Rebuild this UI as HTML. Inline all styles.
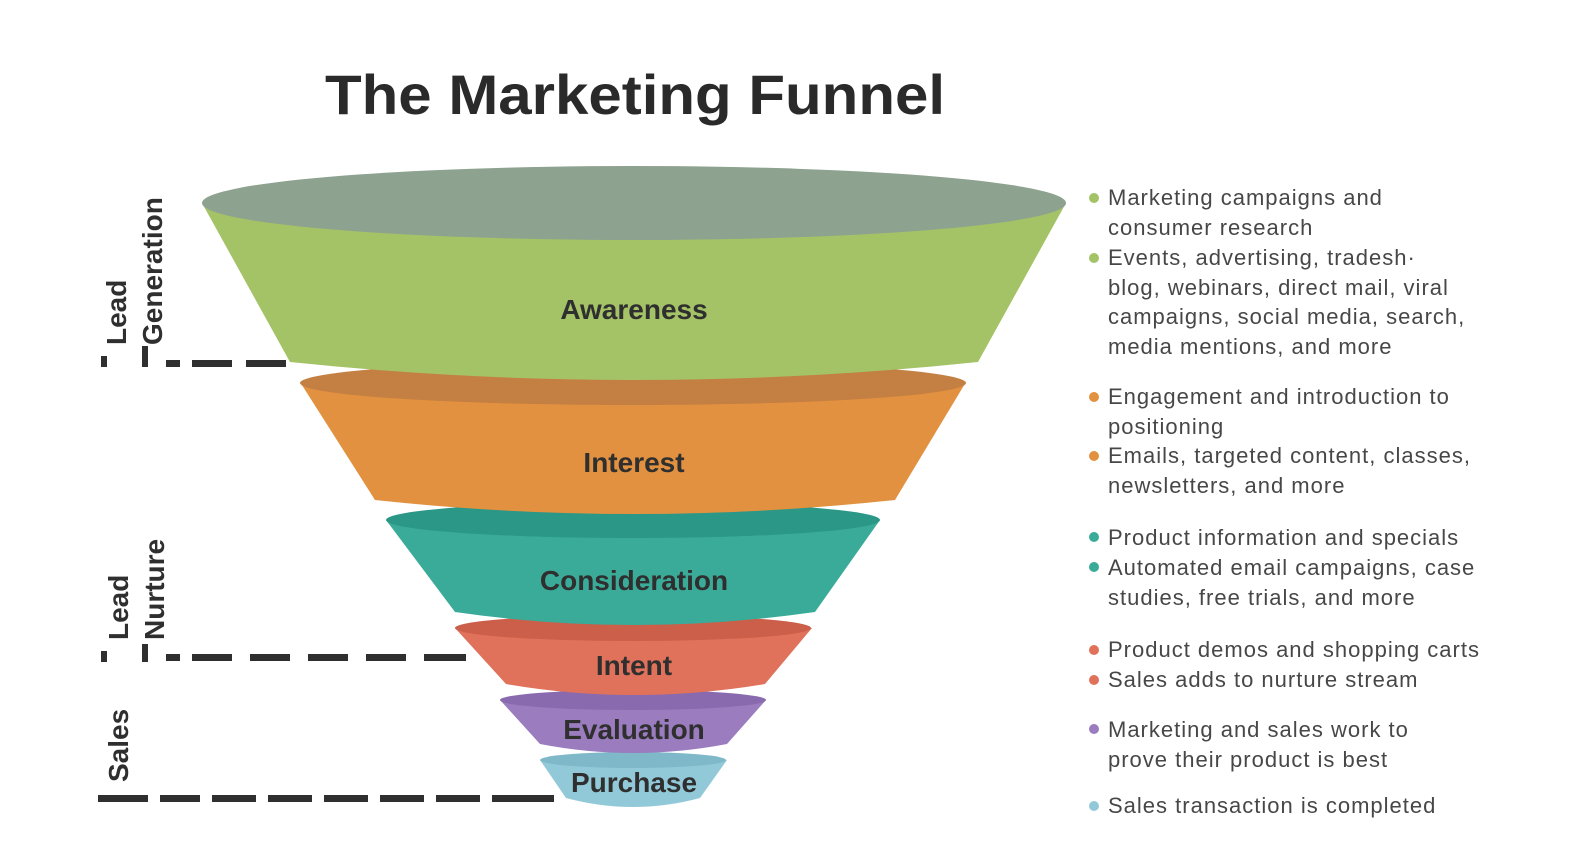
<!DOCTYPE html>
<html><head><meta charset="utf-8"><style>
body{margin:0;background:#fff;}
svg{display:block}
</style></head><body>
<svg width="1580" height="858" viewBox="0 0 1580 858" xmlns="http://www.w3.org/2000/svg" font-family="Liberation Sans, sans-serif">
<text x="325" y="114" textLength="620" lengthAdjust="spacingAndGlyphs" font-size="56" font-weight="bold" fill="#2a2a2a">The Marketing Funnel</text>

<!-- Purchase -->
<path d="M540 760 L566 798 Q633 816 700 798 L727 760 Z" fill="#92c9d9"/>
<ellipse cx="633" cy="760" rx="93" ry="8" fill="#7fb8c8"/>
<!-- Evaluation -->
<path d="M500 700 L540 744 Q633 762 727 744 L766 700 Z" fill="#9a7cbf"/>
<ellipse cx="633" cy="700" rx="133" ry="10" fill="#8a6aae"/>
<!-- Intent -->
<path d="M455 628 L506 684 Q633 706 765 684 L812 628 Z" fill="#e0715a"/>
<ellipse cx="633" cy="628" rx="178" ry="13" fill="#cc5f4a"/>
<!-- Consideration -->
<path d="M386 520 L455 612 Q633 638 815 612 L880 520 Z" fill="#3aab98"/>
<ellipse cx="633" cy="520" rx="247" ry="18" fill="#2a9787"/>
<!-- Interest -->
<path d="M300 382 L375 500 Q633 528 895 500 L966 382 Z" fill="#e1913f"/>
<ellipse cx="633" cy="383" rx="333" ry="22" fill="#c47f42"/>
<!-- Awareness -->
<path d="M202 203 L290 362 Q634 398 978 362 L1066 203 Z" fill="#a4c266"/>
<ellipse cx="634" cy="203" rx="432" ry="37" fill="#8ea290"/>

<g font-weight="bold" fill="#2f2f2f" text-anchor="middle" font-size="28">
<text x="634" y="319">Awareness</text>
<text x="634" y="472">Interest</text>
<text x="634" y="590">Consideration</text>
<text x="634" y="675">Intent</text>
<text x="634" y="739">Evaluation</text>
<text x="634" y="792">Purchase</text>
</g>

<!-- Left labels -->
<g font-weight="bold" fill="#2f2f2f" font-size="28">
<text transform="translate(126,345) rotate(-90)">Lead</text>
<text transform="translate(162,345) rotate(-90)">Generation</text>
<text transform="translate(128,640) rotate(-90)">Lead</text>
<text transform="translate(164,640) rotate(-90)">Nurture</text>
<text transform="translate(128,782) rotate(-90)">Sales</text>
</g>
<g fill="#2f2f2f">
<rect x="101" y="356" width="6" height="11"/>
<rect x="142" y="346" width="6" height="21"/>
<rect x="166" y="360" width="14" height="7"/>
<rect x="192" y="360" width="40" height="7"/>
<rect x="246" y="360" width="40" height="7"/>
<rect x="101" y="651" width="6" height="11"/>
<rect x="142" y="644" width="6" height="18"/>
<rect x="166" y="654" width="14" height="7"/>
<rect x="192" y="654" width="40" height="7"/>
<rect x="250" y="654" width="40" height="7"/>
<rect x="308" y="654" width="40" height="7"/>
<rect x="366" y="654" width="40" height="7"/>
<rect x="424" y="654" width="42" height="7"/>
<rect x="98" y="795" width="50" height="7"/>
<rect x="160" y="795" width="40" height="7"/>
<rect x="212" y="795" width="44" height="7"/>
<rect x="268" y="795" width="44" height="7"/>
<rect x="324" y="795" width="44" height="7"/>
<rect x="380" y="795" width="44" height="7"/>
<rect x="436" y="795" width="44" height="7"/>
<rect x="492" y="795" width="62" height="7"/>
</g>

<!-- Right text -->
<g font-size="22" fill="#474747" letter-spacing="1">
<circle cx="1094" cy="198" r="5" fill="#a4c266"/>
<text x="1108" y="205">Marketing campaigns and</text>
<text x="1108" y="235">consumer research</text>
<circle cx="1094" cy="258" r="5" fill="#a4c266"/>
<text x="1108" y="265">Events, advertising, tradesh·</text>
<text x="1108" y="295">blog, webinars, direct mail, viral</text>
<text x="1108" y="324">campaigns, social media, search,</text>
<text x="1108" y="354">media mentions, and more</text>
<circle cx="1094" cy="397" r="5" fill="#e1913f"/>
<text x="1108" y="404">Engagement and introduction to</text>
<text x="1108" y="434">positioning</text>
<circle cx="1094" cy="456" r="5" fill="#e1913f"/>
<text x="1108" y="463">Emails, targeted content, classes,</text>
<text x="1108" y="493">newsletters, and more</text>
<circle cx="1094" cy="537" r="5" fill="#3aab98"/>
<text x="1108" y="545">Product information and specials</text>
<circle cx="1094" cy="567" r="5" fill="#3aab98"/>
<text x="1108" y="575">Automated email campaigns, case</text>
<text x="1108" y="605">studies, free trials, and more</text>
<circle cx="1094" cy="650" r="5" fill="#e0715a"/>
<text x="1108" y="657">Product demos and shopping carts</text>
<circle cx="1094" cy="680" r="5" fill="#e0715a"/>
<text x="1108" y="687">Sales adds to nurture stream</text>
<circle cx="1094" cy="729" r="5" fill="#9a7cbf"/>
<text x="1108" y="737">Marketing and sales work to</text>
<text x="1108" y="767">prove their product is best</text>
<circle cx="1094" cy="806" r="5" fill="#92c9d9"/>
<text x="1108" y="813">Sales transaction is completed</text>
</g>
</svg>
</body></html>
